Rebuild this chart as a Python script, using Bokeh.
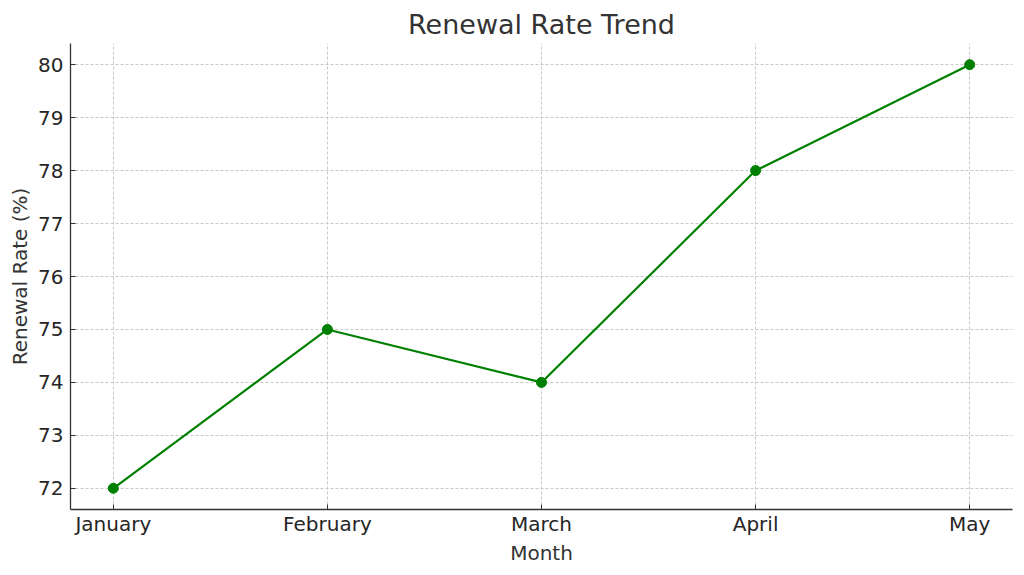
import numpy as np
from bokeh.plotting import figure
from bokeh.models import Range1d, FixedTicker
from bokeh.embed import file_html
from bokeh.resources import INLINE

# datos
months = ["January", "February", "March", "April", "May"]
renewal_rate = [72, 75, 74, 78, 80]
x = list(range(len(months)))

FONT = "DejaVu Sans"
TXT = "#333333"

p = figure(width=1016, height=567, output_backend="svg", toolbar_location=None,
           x_range=Range1d(-0.2, 4.2), y_range=Range1d(71.6, 80.4),
           min_border_left=70, min_border_right=4, min_border_top=43, min_border_bottom=57)

p.title.text = "Renewal Rate Trend"
p.title.align = "center"
p.title.text_font = FONT
p.title.text_font_size = "27px"
p.title.text_font_style = "normal"
p.title.text_color = TXT
p.title.standoff = 7

p.line(x, renewal_rate, line_color="green", line_width=2.2)
p.scatter(x, renewal_rate, size=10, fill_color="green", line_color="green")

p.xaxis.ticker = FixedTicker(ticks=x)
p.xaxis.major_label_overrides = {i: m for i, m in enumerate(months)}
p.yaxis.ticker = FixedTicker(ticks=list(range(72, 81)))

for ax in (p.xaxis, p.yaxis):
    ax.major_tick_in = 5
    ax.major_tick_out = 0
    ax.minor_tick_line_color = None
    ax.axis_line_color = TXT
    ax.axis_line_width = 1.3
    ax.major_tick_line_color = TXT
    ax.major_label_text_font = FONT
    ax.major_label_text_font_size = "20px"
    ax.major_label_text_color = "#262626"
    ax.axis_label_text_font = FONT
    ax.axis_label_text_font_size = "20px"
    ax.axis_label_text_font_style = "normal"
    ax.axis_label_text_color = TXT

p.xaxis.axis_label = "Month"
p.xaxis.major_label_standoff = 2
p.xaxis.axis_label_standoff = 2
p.yaxis.axis_label = "Renewal Rate (%)"
p.yaxis.major_label_standoff = 7
p.yaxis.axis_label_standoff = 3

p.grid.grid_line_color = "#c8c8c8"
p.grid.grid_line_dash = "3 2"
p.grid.grid_line_width = 1
p.outline_line_color = None

open("out.html", "w").write(file_html(p, INLINE))
